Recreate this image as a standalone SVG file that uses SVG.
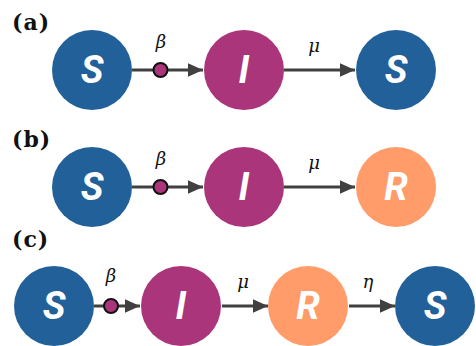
<svg xmlns="http://www.w3.org/2000/svg" width="476" height="346" viewBox="0 0 476 346">
<defs>
<marker id="ah" viewBox="0 0 10 10" refX="10" refY="5" markerWidth="15" markerHeight="15" markerUnits="userSpaceOnUse" orient="auto">
<path d="M0,0.5 L10,5 L0,9.5 Z" fill="#404040"/>
</marker>
</defs>
<style>
.s{fill:#22609A}.i{fill:#AA357A}.r{fill:#FF9C6A}
.lt{font-family:"Roboto","Liberation Sans",sans-serif;font-weight:bold;font-style:italic;font-size:38px;fill:#fff;text-anchor:middle}
.pl{font-family:"DejaVu Serif","Liberation Serif",serif;font-weight:bold;font-size:22px;letter-spacing:1px;fill:#111}
.gr{font-family:"DejaVu Serif","Liberation Serif",serif;font-style:italic;font-size:18px;fill:#111;text-anchor:middle}
.ed{stroke:#404040;stroke-width:3;fill:none;marker-end:url(#ah)}
.dot{fill:#AA357A;stroke:#111;stroke-width:2}
</style>
<text class="pl" x="12" y="30">(a)</text>
<text class="pl" x="12" y="147">(b)</text>
<text class="pl" x="12" y="247">(c)</text>
<g id="connectors">
<path class="ed" d="M132,70 H203"/>
<path class="ed" d="M284,70 H355"/>
<path class="ed" d="M132,187 H203"/>
<path class="ed" d="M284,187 H355"/>
<path class="ed" d="M94,306 H140"/>
<path class="ed" d="M222,306 H268"/>
<path class="ed" d="M349,306 H395"/>
<circle class="dot" cx="160.5" cy="70" r="7"/>
<circle class="dot" cx="160.5" cy="187" r="7"/>
<circle class="dot" cx="111" cy="306" r="7"/>
<text class="gr" x="161" y="48">β</text>
<text class="gr" x="314" y="52">μ</text>
<text class="gr" x="161" y="165">β</text>
<text class="gr" x="314" y="169">μ</text>
<text class="gr" x="111" y="282">β</text>
<text class="gr" x="243" y="288">μ</text>
<text class="gr" x="368" y="288">η</text>
</g>
<g id="a_S1"><circle class="s" cx="92" cy="70" r="40"/><text class="lt" x="92" y="83">S</text></g>
<g id="a_I"><circle class="i" cx="244" cy="70" r="40"/><text class="lt" x="244" y="83">I</text></g>
<g id="a_S2"><circle class="s" cx="396" cy="70" r="40"/><text class="lt" x="396" y="83">S</text></g>
<g id="b_S"><circle class="s" cx="92" cy="187" r="40"/><text class="lt" x="92" y="200">S</text></g>
<g id="b_I"><circle class="i" cx="244" cy="187" r="40"/><text class="lt" x="244" y="200">I</text></g>
<g id="b_R"><circle class="r" cx="396" cy="187" r="40"/><text class="lt" x="396" y="200">R</text></g>
<g id="c_S1"><circle class="s" cx="54" cy="306" r="40"/><text class="lt" x="54" y="319">S</text></g>
<g id="c_I"><circle class="i" cx="181" cy="306" r="40"/><text class="lt" x="181" y="319">I</text></g>
<g id="c_R"><circle class="r" cx="308" cy="306" r="40"/><text class="lt" x="308" y="319">R</text></g>
<g id="c_S2"><circle class="s" cx="435" cy="306" r="40"/><text class="lt" x="435" y="319">S</text></g>
</svg>
